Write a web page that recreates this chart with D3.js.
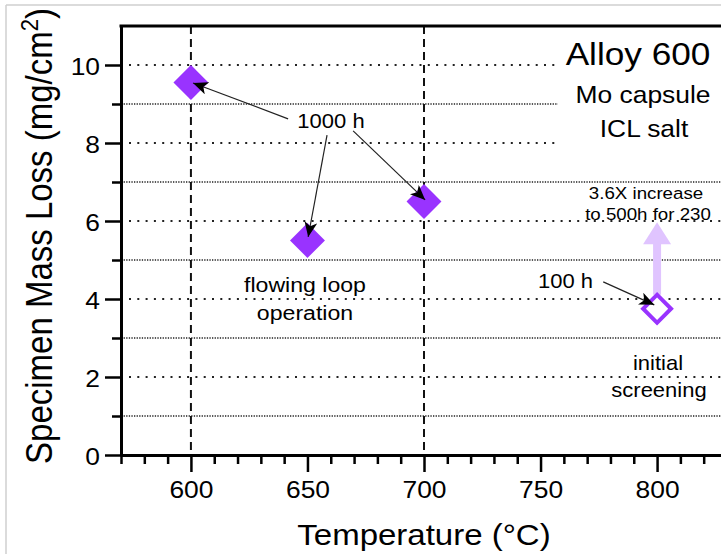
<!DOCTYPE html>
<html>
<head>
<meta charset="utf-8">
<script src="https://cdn.jsdelivr.net/npm/d3@7"></script>
<style>
  body { margin: 0; background: #fff; }
  svg text { font-family: "Liberation Sans", Arial, Helvetica, sans-serif; fill: #000; }
</style>
</head>
<body>
<div id="chart"></div>
<script>
// chart values
const loopTemp = [600, 650, 700];          // 1000 h flowing loop tests
const loopMass = [9.55, 5.5, 6.5];
const screenTemp = [800];                  // 100 h initial screening
const screenMass = [3.75];
const projMass = [5.97];                   // projected (3.6X) value at 800

const xMajor = [600, 650, 700, 750, 800];
const xMinor = [570, 580, 590, 610, 620, 630, 640, 660, 670, 680, 690, 710, 720, 730, 740, 760, 770, 780, 790, 810, 820];
const yMajor = [0, 2, 4, 6, 8, 10];
const yMinor = [1, 3, 5, 7, 9];

// annotation arrows, in data units [temp, mass]
const arrowFrom = [[641.7, 8.62], [658.4, 8.2], [669.6, 8.31], [776.9, 4.44]];
const arrowTo = [[600.9, 9.54], [650.3, 5.59], [700.5, 6.54], [798.8, 3.85]];

const W = 721, H = 554;
const sx = 1.1; // the reference text is a bit wide

var svg = d3.select("#chart").append("svg")
    .attr("width", W)
    .attr("height", H);

// grey frame of the picture
svg.append("line").attr("x1", 6).attr("x2", W).attr("y1", 5).attr("y2", 5)
    .style("stroke", "#cfcfcf").style("stroke-width", 1.5);
svg.append("line").attr("x1", 6).attr("x2", 6).attr("y1", 5).attr("y2", H)
    .style("stroke", "#cfcfcf").style("stroke-width", 1.5);

var x = d3.scaleLinear().domain([570, 830]).range([121, 727]);
var y = d3.scaleLinear().domain([0, 11]).range([455, 26]);

// horizontal grid: sparse dots on even, dense dots on odd
svg.append("g").selectAll("line")
    .data(yMajor.filter(d => d > 0))
    .enter().append("line")
    .attr("x1", x(570) + 8).attr("x2", W)
    .attr("y1", d => y(d)).attr("y2", d => y(d))
    .style("stroke", "#222").style("stroke-width", 2)
    .style("stroke-dasharray", "2,6.3");
svg.append("g").selectAll("line")
    .data(yMinor)
    .enter().append("line")
    .attr("x1", x(570)).attr("x2", W)
    .attr("y1", d => y(d)).attr("y2", d => y(d))
    .style("stroke", "#222").style("stroke-width", 1.5)
    .style("stroke-dasharray", "1.3,1.3");

// vertical dashed lines at 600 and 700
svg.append("g").selectAll("line")
    .data([600, 700])
    .enter().append("line")
    .attr("x1", d => x(d)).attr("x2", d => x(d))
    .attr("y1", y(11)).attr("y2", y(0))
    .style("stroke", "#111").style("stroke-width", 2)
    .style("stroke-dasharray", "8,5");

// white box behind the title block
svg.append("rect")
    .attr("x", 558).attr("y", 29).attr("width", W - 558).attr("height", 135)
    .style("fill", "#fff");

// axes
var xAxisMinor = svg.append("g")
    .attr("transform", `translate(0,${y(0)})`)
    .call(d3.axisBottom(x).tickValues(xMinor).tickSize(9).tickSizeOuter(0).tickFormat(""));
var xAxis = svg.append("g")
    .attr("transform", `translate(0,${y(0)})`)
    .call(d3.axisBottom(x).tickValues(xMajor).tickSize(17).tickSizeOuter(0).tickFormat(d3.format("d")));
var yAxisMinor = svg.append("g")
    .attr("transform", `translate(${x(570)},0)`)
    .call(d3.axisLeft(y).tickValues(yMinor).tickSize(9).tickSizeOuter(0).tickFormat(""));
var yAxis = svg.append("g")
    .attr("transform", `translate(${x(570)},0)`)
    .call(d3.axisLeft(y).tickValues(yMajor).tickSize(16).tickSizeOuter(0).tickFormat(d3.format("d")));

[xAxisMinor, xAxis, yAxisMinor, yAxis].forEach(function (a) {
    a.select(".domain").style("stroke", "#000").style("stroke-width", 3);
    a.selectAll(".tick line").style("stroke", "#000").style("stroke-width", 2.5);
});
xAxis.selectAll(".tick text")
    .attr("y", 0).attr("dy", 0)
    .attr("transform", `translate(0,43) scale(${sx},1)`)
    .style("font-size", "24px");
yAxis.selectAll(".tick text")
    .attr("x", 0).attr("dy", 0)
    .attr("transform", `translate(-21,9) scale(${sx},1)`)
    .style("font-size", "24px");

// top frame line
svg.append("line")
    .attr("x1", x(570) - 1.5).attr("x2", W)
    .attr("y1", y(11)).attr("y2", y(11))
    .style("stroke", "#000").style("stroke-width", 3);

// axis titles
svg.append("text")
    .attr("transform", `translate(424,545) scale(${sx},1)`)
    .attr("text-anchor", "middle")
    .style("font-size", "30px")
    .text("Temperature (°C)");

var yl = svg.append("text")
    .attr("transform", `translate(52,236) scale(${sx},1) rotate(-90)`)
    .attr("text-anchor", "middle")
    .style("font-size", "33px");
yl.append("tspan").text("Specimen Mass Loss (mg/cm");
yl.append("tspan").attr("baseline-shift", "super").style("font-size", "22px").text("2");
yl.append("tspan").text(")");

// light purple arrow: projected increase at 800
var px = x(screenTemp[0]);
svg.append("line")
    .attr("x1", px).attr("x2", px)
    .attr("y1", y(screenMass[0]) - 14).attr("y2", y(projMass[0]) + 20)
    .style("stroke", "#e0c4ff").style("stroke-width", 8);
svg.append("path")
    .attr("d", `M${px},${y(projMass[0])} L${px + 14},${y(projMass[0]) + 22} L${px - 14},${y(projMass[0]) + 22} Z`)
    .style("fill", "#e0c4ff");

// points
var diamond = function (area) {
    return d3.symbol().type(d3.symbolSquare).size(area)();
};
svg.append("g").selectAll("path")
    .data(loopTemp)
    .enter().append("path")
    .attr("d", diamond(610))
    .attr("transform", (d, i) => `translate(${x(d)},${y(loopMass[i])}) rotate(45)`)
    .style("fill", "#9933ff");
svg.append("g").selectAll("path")
    .data(screenTemp)
    .enter().append("path")
    .attr("d", diamond(390))
    .attr("transform", (d, i) => `translate(${x(d)},${y(screenMass[i])}) rotate(45)`)
    .style("fill", "#fff")
    .style("stroke", "#9933ff")
    .style("stroke-width", 4);

// annotation arrows
svg.append("defs").append("marker")
    .attr("id", "head")
    .attr("markerUnits", "userSpaceOnUse")
    .attr("markerWidth", 16).attr("markerHeight", 14)
    .attr("refX", 15).attr("refY", 6.5)
    .attr("orient", "auto")
    .append("path")
    .attr("d", "M0,0 L15,6.5 L0,13 L4,6.5 Z")
    .style("fill", "#000");
svg.append("g").selectAll("line")
    .data(arrowFrom)
    .enter().append("line")
    .attr("x1", d => x(d[0])).attr("y1", d => y(d[1]))
    .attr("x2", (d, i) => x(arrowTo[i][0])).attr("y2", (d, i) => y(arrowTo[i][1]))
    .style("stroke", "#222").style("stroke-width", 1.2)
    .attr("marker-end", "url(#head)");

// labels
function label(tx, ty, txt, size, anchor) {
    svg.append("text")
        .attr("transform", `translate(${tx},${ty}) scale(${sx},1)`)
        .attr("text-anchor", anchor || "middle")
        .style("font-size", size + "px")
        .text(txt);
}
label(638, 65, "Alloy 600", 32);
label(643, 103, "Mo capsule", 24);
label(644, 137, "ICL salt", 24);
label(331, 128, "1000 h", 20);
label(305, 292, "flowing loop", 21);
label(305, 320, "operation", 21);
label(593, 288, "100 h", 20, "end");
label(658, 370, "initial", 20);
label(659, 397, "screening", 20);
label(646, 199, "3.6X increase", 17);
label(648, 220, "to 500h for 230", 17);
</script>
</body>
</html>
